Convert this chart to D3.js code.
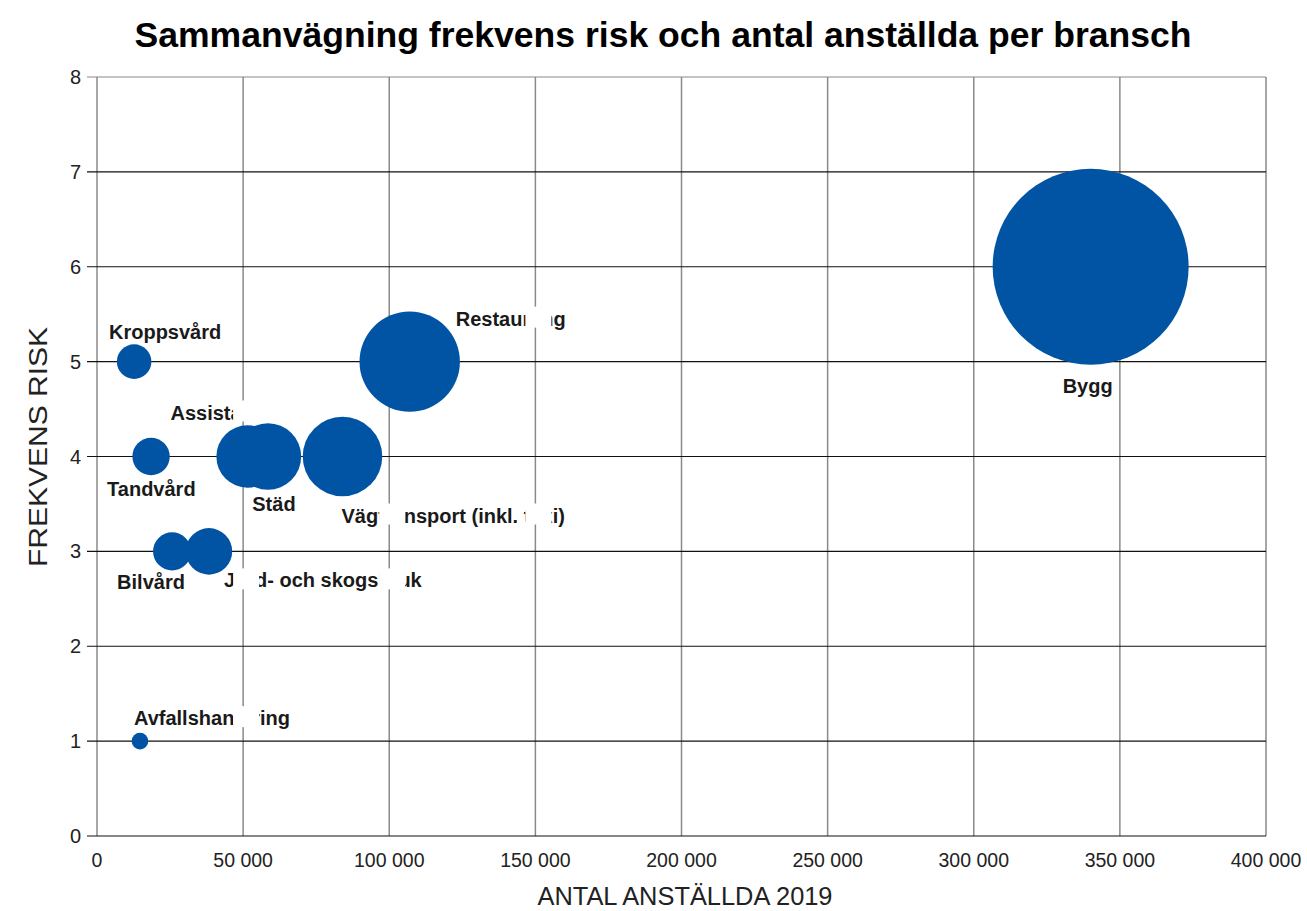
<!DOCTYPE html>
<html>
<head>
<meta charset="utf-8">
<script src="https://cdn.jsdelivr.net/npm/d3@7"></script>
<style>
  body { margin: 0; background: #fff; }
  text { font-family: "Liberation Sans", Arial, sans-serif; }
</style>
</head>
<body>
<script>
// data
const branscher = ["Bygg", "Restaurang", "Vägtransport (inkl. taxi)", "Städ", "Assistans",
  "Kroppsvård", "Tandvård", "Bilvård", "Jord- och skogsbruk", "Avfallshantering"];
const anstallda = [340000, 107000, 84000, 58500, 51500, 12700, 18500, 25700, 38300, 14700];
const risk = [6, 5, 4, 4, 4, 5, 4, 3, 3, 1];
const storlek = [2040000, 535000, 336000, 234000, 206000, 63500, 74000, 77000, 115000, 14700];
const xTicks = [0, 50000, 100000, 150000, 200000, 250000, 300000, 350000, 400000];
const yTicks = [0, 1, 2, 3, 4, 5, 6, 7, 8];

// label placement (dx, dy from bubble centre, anchor)
const labelPos = {
  "Bygg": [-3, 126, "middle"],
  "Restaurang": [46, -36, "start"],
  "Vägtransport (inkl. taxi)": [-1, 66, "start"],
  "Städ": [6, 54, "middle"],
  "Assistans": [-77, -37, "start"],
  "Kroppsvård": [31, -23, "middle"],
  "Tandvård": [-44, 39, "start"],
  "Bilvård": [-55, 38, "start"],
  "Jord- och skogsbruk": [15, 36, "start"],
  "Avfallshantering": [-6, -16, "start"]
};

const dims = { width: 1307, height: 911 };
const plot = { left: 97, right: 1266, top: 77, bottom: 836 };

const svg = d3.select("body").append("svg")
  .attr("width", dims.width)
  .attr("height", dims.height);

const x = d3.scaleLinear().domain([0, 400000]).range([plot.left, plot.right]);
const y = d3.scaleLinear().domain([0, 8]).range([plot.bottom, plot.top]);
const r = d3.scaleSqrt().domain([0, 2040000]).range([0, 98]);

const fmt = v => d3.format(",")(v).replace(/,/g, " ");

// vertical grid
svg.append("g")
  .selectAll("line").data(xTicks).join("line")
  .attr("x1", d => x(d)).attr("x2", d => x(d))
  .attr("y1", plot.top).attr("y2", plot.bottom)
  .attr("stroke", "#8a8a8a").attr("stroke-width", 1.5);

// horizontal grid + ticks
svg.append("g")
  .selectAll("line").data(yTicks).join("line")
  .attr("x1", plot.left - 10).attr("x2", plot.right)
  .attr("y1", d => y(d)).attr("y2", d => y(d))
  .attr("stroke", d => d === 8 ? "#8a8a8a" : "#111").attr("stroke-width", 1.2);

// y tick labels
svg.append("g")
  .selectAll("text").data(yTicks).join("text")
  .attr("x", plot.left - 16).attr("y", d => y(d) + 7)
  .attr("text-anchor", "end")
  .attr("font-size", 20).attr("fill", "#222")
  .text(d => d);

// x tick labels
svg.append("g")
  .selectAll("text").data(xTicks).join("text")
  .attr("x", d => x(d)).attr("y", 867)
  .attr("text-anchor", "middle")
  .attr("font-size", 19.5).attr("fill", "#222")
  .text(d => fmt(d));

// axis titles
svg.append("text")
  .attr("x", 685).attr("y", 905)
  .attr("text-anchor", "middle").attr("font-size", 25).attr("fill", "#222")
  .attr("textLength", 295).attr("lengthAdjust", "spacingAndGlyphs")
  .text("ANTAL ANSTÄLLDA 2019");

svg.append("text")
  .attr("transform", "translate(47,447) rotate(-90)")
  .attr("text-anchor", "middle").attr("font-size", 25).attr("fill", "#222")
  .attr("textLength", 240).attr("lengthAdjust", "spacingAndGlyphs")
  .text("FREKVENS RISK");

// title
svg.append("text")
  .attr("x", 663).attr("y", 47)
  .attr("text-anchor", "middle").attr("font-size", 35).attr("font-weight", "bold")
  .attr("fill", "#000")
  .attr("textLength", 1057).attr("lengthAdjust", "spacingAndGlyphs")
  .text("Sammanvägning frekvens risk och antal anställda per bransch");

const data = branscher.map((b, i) => ({ namn: b, x: anstallda[i], y: risk[i], s: storlek[i] }));

// bubbles
svg.append("g")
  .selectAll("circle").data(data).join("circle")
  .attr("cx", d => x(d.x)).attr("cy", d => y(d.y))
  .attr("r", d => r(d.s))
  .attr("fill", "#0054a3");

// labels
const labels = svg.append("g")
  .selectAll("text").data(data).join("text")
  .attr("x", d => x(d.x) + labelPos[d.namn][0])
  .attr("y", d => y(d.y) + labelPos[d.namn][1])
  .attr("text-anchor", d => labelPos[d.namn][2])
  .attr("font-size", 20).attr("font-weight", "bold").attr("fill", "#1a1a1a")
  .text(d => d.namn);

// white gaps where vertical grid lines cross the labels (as in the original)
const gaps = svg.append("g");
labels.each(function () {
  const bb = this.getBBox();
  const end = bb.x + bb.width + 2;
  xTicks.slice(1).forEach(t => {
    const gx = x(t);
    if (gx > bb.x && gx < bb.x + bb.width) {
      const x0 = gx - 10;
      let w = 26;
      if (end - (x0 + w) < 12) w = end - x0;
      gaps.append("rect")
        .attr("x", x0).attr("y", bb.y - 1)
        .attr("width", w)
        .attr("height", bb.height - 1)
        .attr("fill", "#fff");
    }
  });
});
</script>
</body>
</html>
